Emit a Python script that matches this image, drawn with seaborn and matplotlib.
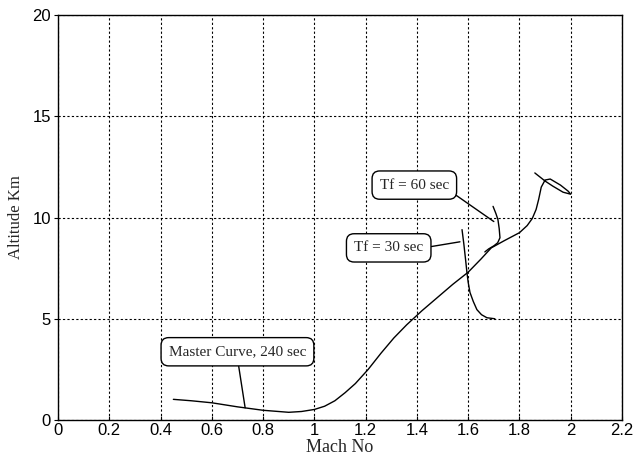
import pandas as pd
import matplotlib
matplotlib.use("Agg")
import matplotlib.pyplot as plt
import seaborn as sns

# --- curve data (Mach No, Altitude Km) ---
master_mach = [0.45, 0.52, 0.60, 0.70, 0.80, 0.86, 0.90, 0.95, 1.00, 1.04,
               1.08, 1.12, 1.16, 1.21, 1.26, 1.31, 1.36, 1.42, 1.48, 1.54,
               1.60, 1.65, 1.69, 1.74, 1.80, 1.83, 1.85, 1.865, 1.875, 1.885,
               1.90, 1.92, 1.96, 1.99, 2.00, 1.97, 1.93, 1.90, 1.86]
master_alt = [1.02, 0.95, 0.85, 0.65, 0.48, 0.42, 0.38, 0.42, 0.52, 0.68,
              0.95, 1.35, 1.80, 2.50, 3.30, 4.05, 4.70, 5.40, 6.05, 6.70,
              7.30, 7.95, 8.50, 8.85, 9.25, 9.60, 9.95, 10.40, 10.90, 11.50,
              11.85, 11.90, 11.60, 11.30, 11.15, 11.25, 11.55, 11.80, 12.20]

tf30_mach = [1.576, 1.583, 1.590, 1.595, 1.600, 1.607, 1.620, 1.634, 1.652, 1.673, 1.704]
tf30_alt = [9.40, 8.70, 7.90, 7.30, 6.80, 6.30, 5.85, 5.45, 5.20, 5.05, 5.00]

tf60_mach = [1.697, 1.708, 1.716, 1.721, 1.724, 1.715, 1.700, 1.680, 1.665]
tf60_alt = [10.55, 10.20, 9.90, 9.45, 9.00, 8.75, 8.60, 8.45, 8.30]

labels = ["Master Curve, 240 sec", "Tf = 30 sec", "Tf = 60 sec"]

frames = []
for name, xs, ys in [(labels[0], master_mach, master_alt),
                     (labels[1], tf30_mach, tf30_alt),
                     (labels[2], tf60_mach, tf60_alt)]:
    frames.append(pd.DataFrame({"Mach": xs, "Alt": ys, "curve": name}))
df = pd.concat(frames, ignore_index=True)

sns.set_theme(style="ticks")
plt.rcParams["font.family"] = ["Liberation Sans", "DejaVu Sans"]

fig = plt.figure(figsize=(6.34, 4.68), dpi=100)
ax = fig.add_axes([58 / 634, 1 - 420 / 468, (622 - 58) / 634, (420 - 15) / 468])

for name in labels:
    sub = df[df["curve"] == name]
    sns.lineplot(data=sub, x="Mach", y="Alt", sort=False, estimator=None,
                 color="black", linewidth=1.0, ax=ax, legend=False)

ax.set_xlim(0, 2.2)
ax.set_ylim(0, 20)
ax.set_xticks([0, 0.2, 0.4, 0.6, 0.8, 1.0, 1.2, 1.4, 1.6, 1.8, 2.0, 2.2])
ax.set_xticklabels(["0", "0.2", "0.4", "0.6", "0.8", "1", "1.2", "1.4", "1.6", "1.8", "2", "2.2"])
ax.set_yticks([0, 5, 10, 15, 20])
ax.grid(True, color="black", linestyle=(0, (2, 2)), linewidth=0.8)
ax.tick_params(axis="both", labelsize=12, colors="black", length=3, width=0.8, pad=2)
ax.tick_params(axis="x", direction="in")
for s in ax.spines.values():
    s.set_color("black")
    s.set_linewidth(1.0)

serif = ["Liberation Serif", "DejaVu Serif"]
ax.set_xlabel("Mach No", family=serif, fontsize=13, labelpad=1)
ax.set_ylabel("Altitude Km", family=serif, fontsize=12, labelpad=6)

box = dict(boxstyle="round,pad=0.5", fc="white", ec="black", lw=1.0)
ax.annotate(labels[0], xy=(0.73, 0.6), xytext=(0.70, 3.37), ha="center", va="center",
            family=serif, fontsize=11, bbox=box,
            arrowprops=dict(arrowstyle="-", color="black", lw=1.0, relpos=(0.5, 0.0),
                            shrinkA=0, shrinkB=0))
ax.annotate(labels[1], xy=(1.568, 8.8), xytext=(1.29, 8.5), ha="center", va="center",
            family=serif, fontsize=11, bbox=box,
            arrowprops=dict(arrowstyle="-", color="black", lw=1.0, relpos=(1.0, 0.5),
                            shrinkA=0, shrinkB=0))
ax.annotate(labels[2], xy=(1.70, 9.8), xytext=(1.39, 11.6), ha="center", va="center",
            family=serif, fontsize=11, bbox=box,
            arrowprops=dict(arrowstyle="-", color="black", lw=1.0, relpos=(1.0, 0.1),
                            shrinkA=0, shrinkB=0))

fig.savefig("out.png", dpi=100, facecolor="white")
